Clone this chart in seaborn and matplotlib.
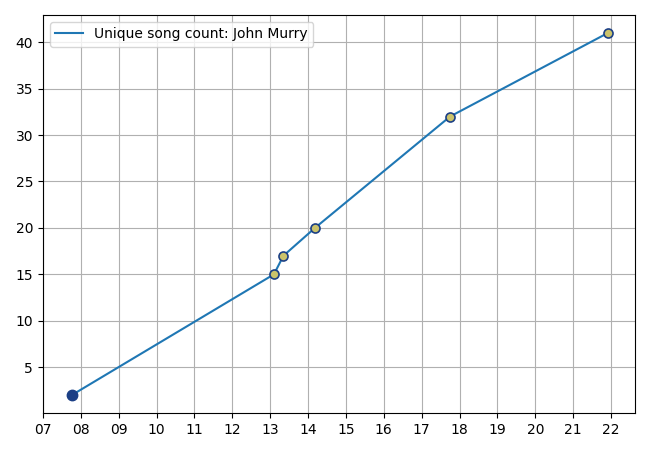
import pandas as pd
import matplotlib
matplotlib.use("Agg")
import matplotlib.pyplot as plt
import matplotlib.dates as mdates
import seaborn as sns

# play times (HH:MM) and running count of unique songs
times = ["07:46", "13:06", "13:21", "14:11", "17:45", "21:55"]
counts = [2, 15, 17, 20, 32, 41]
artist = "John Murry"
day = "2024-01-01 "

df = pd.DataFrame({
    "time": pd.to_datetime([day + t for t in times]),
    "count": counts,
})

fig, ax = plt.subplots(figsize=(6.5, 4.5), dpi=100)
sns.lineplot(data=df, x="time", y="count", ax=ax, color="#1f77b4",
             label=f"Unique song count: {artist}")

# first point in dark blue, the rest yellowish
ax.plot(df["time"].iloc[:1], df["count"].iloc[:1], "o", color="#1b3f85",
        markersize=7.5, zorder=3)
ax.plot(df["time"].iloc[1:], df["count"].iloc[1:], "o",
        markerfacecolor="#cbc36b", markeredgecolor="#1b3f85",
        markersize=6.5, markeredgewidth=1.2, zorder=3)

ax.set_xlim(pd.Timestamp(day + "07:00"), pd.Timestamp(day + "22:38"))
ax.xaxis.set_major_locator(mdates.HourLocator())
ax.xaxis.set_major_formatter(mdates.DateFormatter("%H"))
ax.set_xlabel("")
ax.set_ylabel("")
ax.grid(True, color="#b0b0b0")
ax.legend(loc="upper left")

plt.subplots_adjust(left=0.066, right=0.977, bottom=0.082, top=0.967)
plt.savefig("out.png", dpi=100)
